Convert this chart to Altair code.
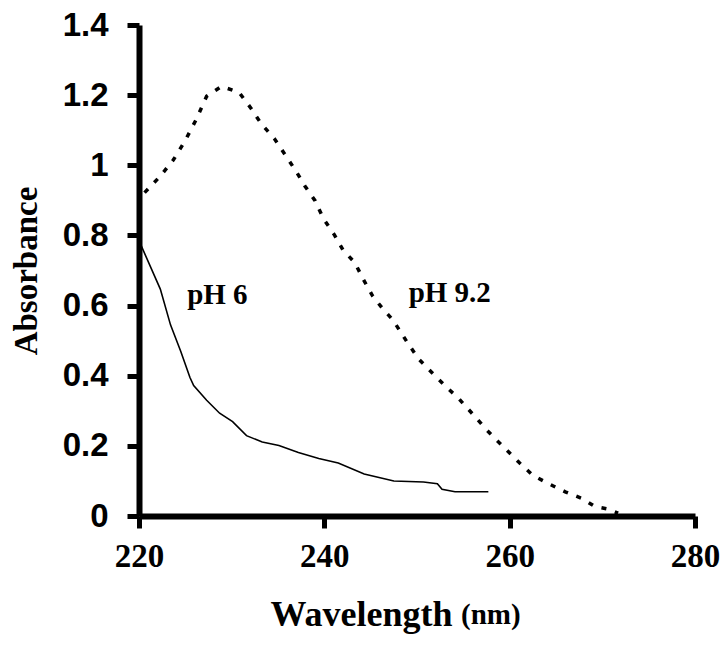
import altair as alt
import pandas as pd

# pH 6 (solid)
ph6_wl = [220.2, 222.3, 223.4, 224.5, 225.5, 225.9, 227.3, 228.7, 230.1, 231.6, 233.3, 235.1,
          237.2, 239.4, 241.5, 244.3, 247.5, 250.7, 252.2, 252.7, 254.1, 257.7]
ph6_abs = [0.773, 0.647, 0.545, 0.470, 0.395, 0.372, 0.330, 0.293, 0.269, 0.229, 0.211, 0.201,
           0.181, 0.164, 0.151, 0.120, 0.100, 0.097, 0.092, 0.076, 0.069, 0.069]

# pH 9.2 (dashed)
ph92_wl = [220.6, 222.3, 223.7, 225.0, 226.2, 227.3, 228.9, 230.8, 232.1, 233.2, 234.6, 235.8,
           236.9, 237.9, 239.0, 239.9, 241.1, 242.0, 243.3, 244.2, 245.2, 246.3, 247.4, 249.0,
           250.2, 251.6, 253.2, 254.5, 256.1, 257.5, 258.2, 259.6, 261.0, 262.5, 264.2, 266.0,
           267.8, 269.2, 270.6, 271.7]
ph92_abs = [0.922, 0.969, 1.015, 1.071, 1.132, 1.197, 1.225, 1.208, 1.162, 1.118, 1.076, 1.029,
            0.985, 0.941, 0.899, 0.848, 0.801, 0.759, 0.722, 0.675, 0.628, 0.591, 0.559, 0.493,
            0.447, 0.409, 0.367, 0.335, 0.288, 0.246, 0.227, 0.190, 0.153, 0.116, 0.092, 0.069,
            0.050, 0.027, 0.020, 0.008]

labels = ["pH 6", "pH 9.2"]
label_wl = [225.2, 249.1]
label_abs = [0.604, 0.61]

x_ticks = [220, 240, 260, 280]
y_ticks = [0, 0.2, 0.4, 0.6, 0.8, 1.0, 1.2, 1.4]

df6 = pd.DataFrame({"wl": ph6_wl, "abs": ph6_abs, "i": range(len(ph6_wl))})
df92 = pd.DataFrame({"wl": ph92_wl, "abs": ph92_abs, "i": range(len(ph92_wl))})
dflab = pd.DataFrame({"wl": label_wl, "abs": label_abs, "t": labels})

xs = alt.Scale(domain=[220, 280], nice=False, zero=False)
ys = alt.Scale(domain=[0, 1.4], nice=False)

xaxis = alt.Axis(values=x_ticks, grid=False, domainColor="black", domainWidth=6,
                 tickColor="black", tickWidth=5, tickSize=12, labelFlush=False,
                 labelFont="Liberation Serif", labelFontWeight="bold", labelFontSize=33,
                 labelColor="black", labelPadding=12,
                 title="Wavelength", titleFont="Liberation Serif", titleFontWeight="bold",
                 titleFontSize=36, titleColor="black", titlePadding=24, titleX=222)
yaxis = alt.Axis(values=y_ticks, grid=False, domainColor="black", domainWidth=6,
                 tickColor="black", tickWidth=5, tickSize=12, labelFlush=False,
                 labelFont="Liberation Sans", labelFontWeight="bold", labelFontSize=33,
                 labelColor="black", labelPadding=19,
                 format="~g",
                 title="Absorbance", titleFont="Liberation Serif", titleFontWeight="bold",
                 titleFontSize=33, titleColor="black", titlePadding=19)

l6 = alt.Chart(df6).mark_line(color="black", strokeWidth=1.6).encode(
    x=alt.X("wl:Q", scale=xs, axis=xaxis),
    y=alt.Y("abs:Q", scale=ys, axis=yaxis),
    order="i:Q",
)
l92 = alt.Chart(df92).mark_line(color="black", strokeWidth=3.5, strokeDash=[5, 9]).encode(
    x=alt.X("wl:Q", scale=xs),
    y=alt.Y("abs:Q", scale=ys),
    order="i:Q",
)
txt = alt.Chart(dflab).mark_text(font="Liberation Serif", fontWeight="bold", fontSize=29,
                                 align="left", baseline="alphabetic", color="black").encode(
    x=alt.X("wl:Q", scale=xs),
    y=alt.Y("abs:Q", scale=ys),
    text="t:N",
)
nm = alt.Chart(pd.DataFrame({"t": ["(nm)"]})).mark_text(
    font="Liberation Serif", fontWeight="bold", fontSize=29, align="left",
    baseline="alphabetic", color="black").encode(
    x=alt.value(322), y=alt.value(599), text="t:N")

chart = alt.layer(l6, l92, txt, nm).properties(
    width=556, height=491,
    autosize=alt.AutoSizeParams(type="none"),
    padding={"left": 131, "top": 17, "right": 25, "bottom": 120},
).configure_view(stroke=None)

chart.save("out.html", embed_options={"renderer": "svg", "actions": False})
